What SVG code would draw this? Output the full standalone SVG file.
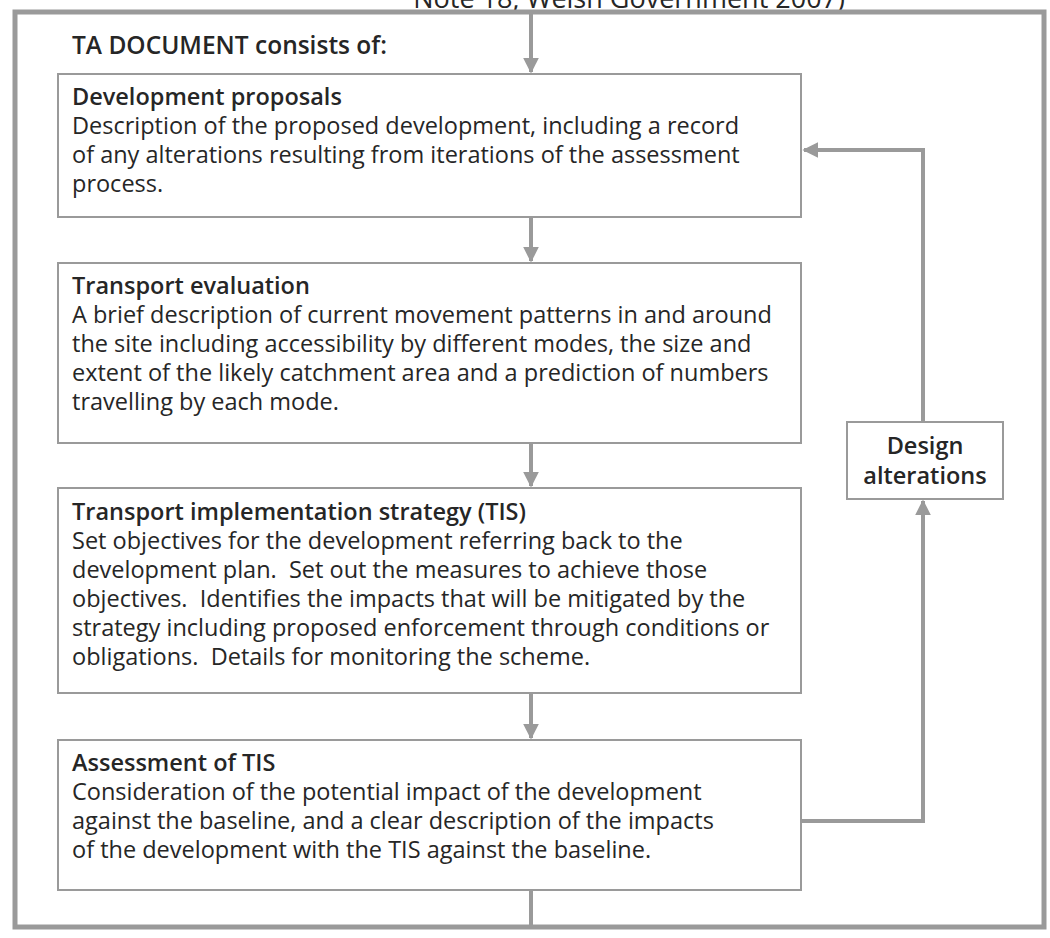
<svg xmlns="http://www.w3.org/2000/svg" width="1050" height="938" viewBox="0 0 1050 938">
<style>
.t{font-family:"Open Sans","Liberation Sans",sans-serif;font-size:23.5px;fill:#262626}
.b{font-weight:600}
.box{fill:#fff;stroke:#9a9a9a;stroke-width:2}
.con{fill:none;stroke:#9a9a9a;stroke-width:4}
</style>
<defs>
<marker id="ah" viewBox="0 0 10 10" refX="9" refY="5" markerWidth="4" markerHeight="4.5" orient="auto" markerUnits="strokeWidth">
<path d="M0,0 L10,5 L0,10 z" fill="#9a9a9a"/>
</marker>
</defs>
<rect width="1050" height="938" fill="#fff"/>
<text class="t" x="845" y="8" text-anchor="end" style="font-size:27px">Note 18, Welsh Government 2007)</text>
<g id="frame">
<rect x="15" y="12" width="1029" height="915" fill="none" stroke="#9a9a9a" stroke-width="5"/>
<text class="t b" x="72" y="54" style="font-size:24.5px">TA DOCUMENT consists of:</text>
</g>
<g id="connectors">
<line class="con" x1="531" y1="14" x2="531" y2="72" marker-end="url(#ah)"/>
<line class="con" x1="531" y1="218" x2="531" y2="261" marker-end="url(#ah)"/>
<line class="con" x1="531" y1="443" x2="531" y2="486" marker-end="url(#ah)"/>
<line class="con" x1="531" y1="693" x2="531" y2="738" marker-end="url(#ah)"/>
<line class="con" x1="531" y1="890" x2="531" y2="926"/>
<polyline class="con" points="801,821 923,821 923,501" marker-end="url(#ah)"/>
<polyline class="con" points="923,421 923,150 804,150" marker-end="url(#ah)"/>
</g>
<g id="development-proposals">
<rect class="box" x="58" y="74" width="743" height="143"/>
<text class="t b" x="72" y="105">Development proposals</text>
<text class="t" x="72" y="134">Description of the proposed development, including a record</text>
<text class="t" x="72" y="163">of any alterations resulting from iterations of the assessment</text>
<text class="t" x="72" y="192">process.</text>
</g>
<g id="transport-evaluation">
<rect class="box" x="58" y="263" width="743" height="180"/>
<text class="t b" x="72" y="294">Transport evaluation</text>
<text class="t" x="72" y="323">A brief description of current movement patterns in and around</text>
<text class="t" x="72" y="352">the site including accessibility by different modes, the size and</text>
<text class="t" x="72" y="381">extent of the likely catchment area and a prediction of numbers</text>
<text class="t" x="72" y="410">travelling by each mode.</text>
</g>
<g id="tis">
<rect class="box" x="58" y="488" width="743" height="205"/>
<text class="t b" x="72" y="520">Transport implementation strategy (TIS)</text>
<text class="t" x="72" y="549">Set objectives for the development referring back to the</text>
<text class="t" x="72" y="578" xml:space="preserve">development plan.  Set out the measures to achieve those</text>
<text class="t" x="72" y="607" xml:space="preserve">objectives.  Identifies the impacts that will be mitigated by the</text>
<text class="t" x="72" y="636">strategy including proposed enforcement through conditions or</text>
<text class="t" x="72" y="665" xml:space="preserve">obligations.  Details for monitoring the scheme.</text>
</g>
<g id="assessment-of-tis">
<rect class="box" x="58" y="740" width="743" height="150"/>
<text class="t b" x="72" y="771">Assessment of TIS</text>
<text class="t" x="72" y="800">Consideration of the potential impact of the development</text>
<text class="t" x="72" y="829">against the baseline, and a clear description of the impacts</text>
<text class="t" x="72" y="858">of the development with the TIS against the baseline.</text>
</g>
<g id="design-alterations">
<rect class="box" x="847" y="422" width="156" height="77"/>
<text class="t b" x="925" y="454" text-anchor="middle">Design</text>
<text class="t b" x="925" y="484" text-anchor="middle">alterations</text>
</g>
</svg>
